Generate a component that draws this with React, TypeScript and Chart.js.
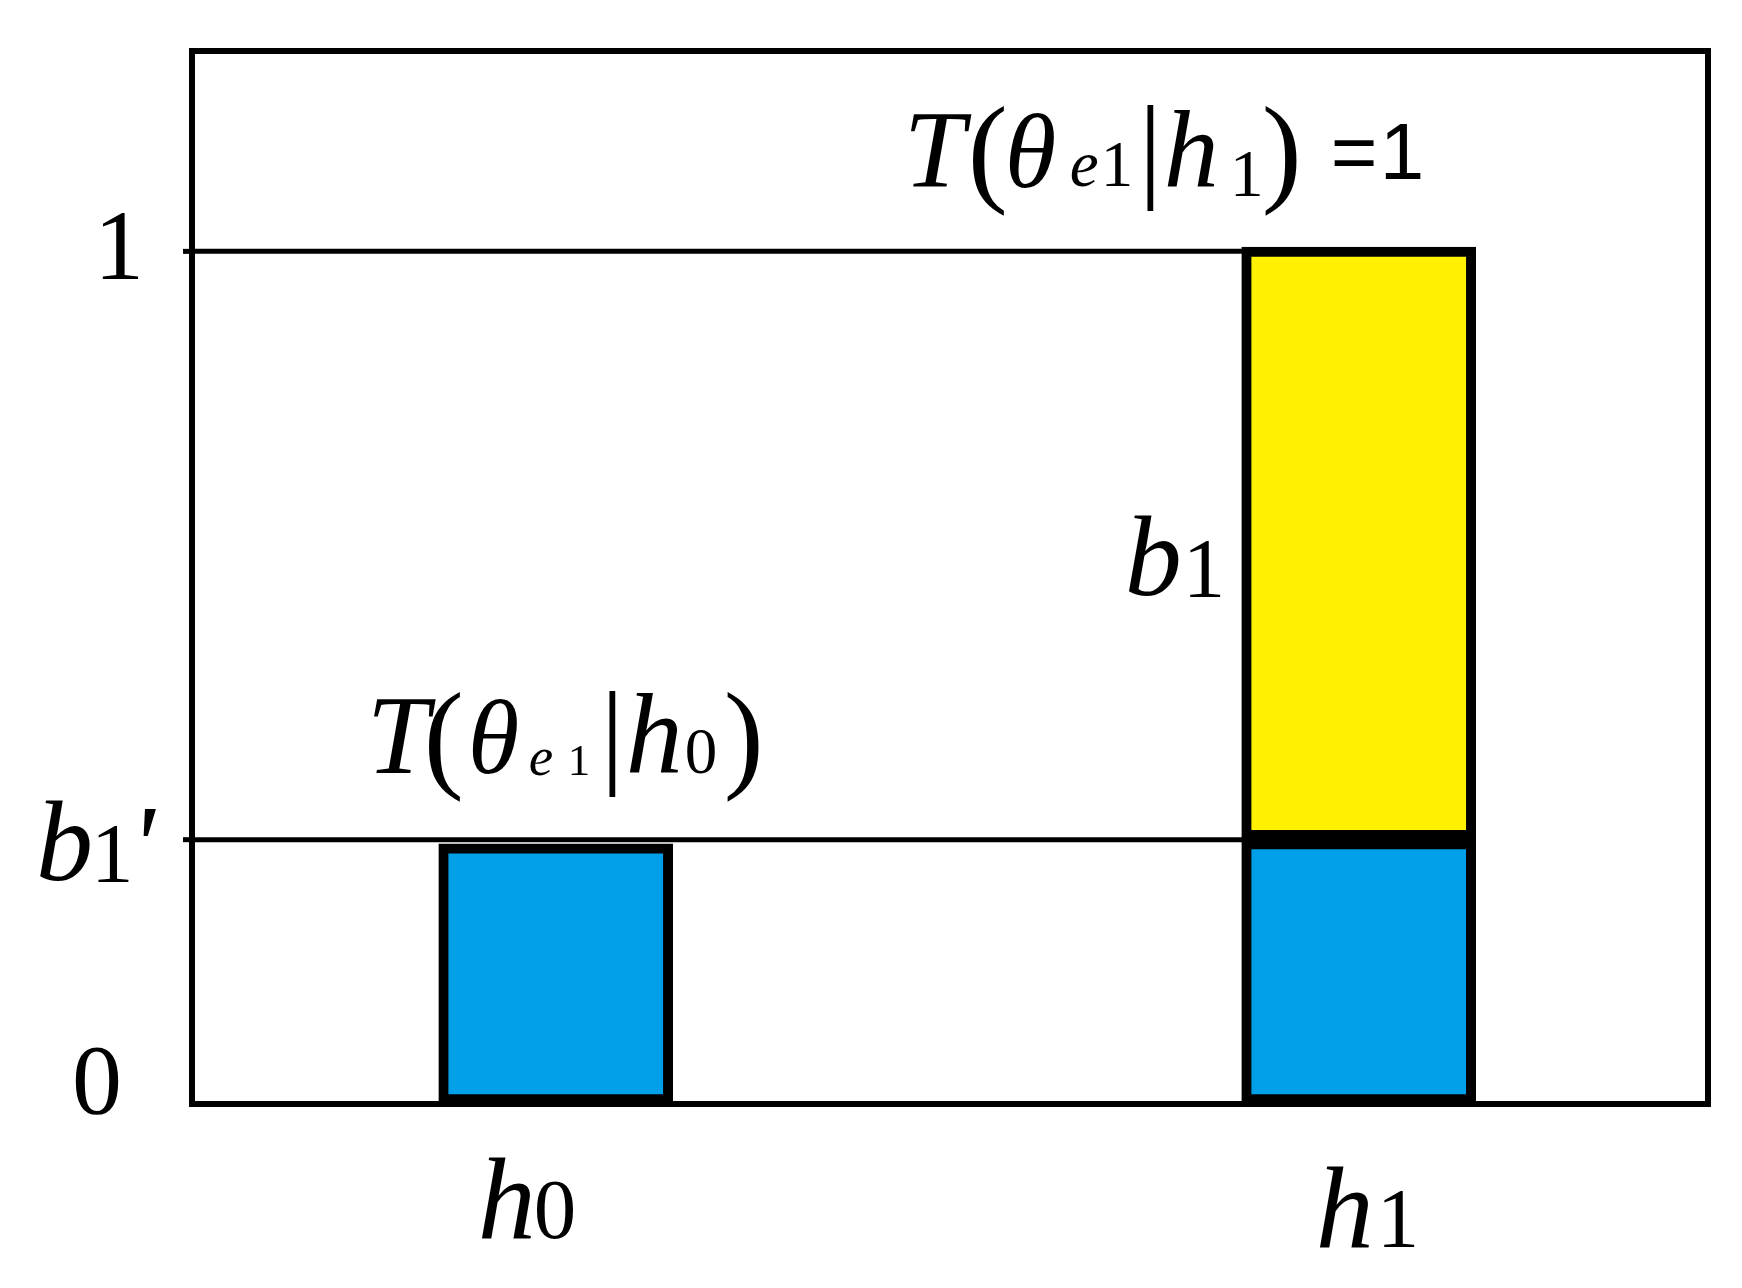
import { useEffect, useRef } from 'react';
import { Chart, registerables } from 'chart.js';
Chart.register(...registerables);

// ---- data ----
const categories = ['h0', 'h1'];
const blueValues = [0.305, 0.31];
const yellowValues: (number | null)[] = [null, 0.695];
const yTickValues = [0, 0.31, 1];
const yTickLabels = ['0', "b1'", '1'];
const annotationH1 = 'T(θe1|h1)=1';
const annotationH0 = 'T(θe1|h0)';
const yellowLabel = 'b1';

const Y_MAX = 1.235;
const X_MIN = -0.453;
const X_MAX = 1.435;

const SERIF = "'Liberation Serif', 'Times New Roman', serif";
const SANS = "'Liberation Sans', Arial, sans-serif";

type Lay = [number, number, number, 'i' | 'r' | 's']; // dx, dy, size, style

function drawText(ctx: CanvasRenderingContext2D, ox: number, oy: number, text: string, lay: Lay[]) {
  const chars = Array.from(text);
  ctx.save();
  ctx.fillStyle = '#000';
  ctx.textBaseline = 'alphabetic';
  ctx.textAlign = 'left';
  lay.forEach((l, k) => {
    const [dx, dy, size, st] = l;
    ctx.font = `${st === 'i' ? 'italic ' : ''}${size}px ${st === 's' ? SANS : SERIF}`;
    ctx.fillText(chars[k] ?? '', ox + dx, oy + dy);
  });
  ctx.restore();
}

const yLabelLayouts: Record<string, Lay[]> = {
  '0': [[-120, 9, 100, 'r']],
  "b1'": [[-156, 40, 114, 'i'], [-101, 42, 85, 'r'], [-62, 44, 114, 'i']],
  '1': [[-98, 28, 100, 'r']],
};
const xLabelLayouts: Record<string, Lay[]> = {
  h0: [[-78, 134, 116, 'i'], [-22, 134, 85, 'r']],
  h1: [[-43, 143, 116, 'i'], [18, 143, 85, 'r']],
};
const annH1Layout: Lay[] = [
  [-455, -64, 110, 'i'],
  [-391, -61, 120, 'r'],
  [-354, -64, 105, 'i'],
  [-289, -65, 65, 'i'],
  [-258, -65, 65, 'r'],
  [-220, -65, 116, 'r'],
  [-195, -64, 110, 'i'],
  [-129, -55, 68, 'r'],
  [-97, -61, 120, 'r'],
  [-28, -72, 80, 's'],
  [21, -72, 80, 's'],
];
const annH0Layout: Lay[] = [
  [-189, -71, 112, 'i'],
  [-132, -68, 120, 'r'],
  [-88, -71, 105, 'i'],
  [-27, -69, 55, 'i'],
  [12, -69, 45, 'r'],
  [45, -72, 116, 'r'],
  [70, -71, 114, 'i'],
  [129, -71, 65, 'r'],
  [168, -68, 120, 'r'],
];
const yellowLabelLayout: Lay[] = [[-234, 52, 114, 'i'], [-176, 54, 85, 'r']];

const decorPlugin = {
  id: 'decor',
  afterDatasetsDraw(chart: any) {
    const ctx: CanvasRenderingContext2D = chart.ctx;
    const { left, right, top, bottom } = chart.chartArea;
    const xs = chart.scales.x;
    const ys = chart.scales.y;
    ctx.save();
    ctx.strokeStyle = '#000';
    ctx.lineWidth = 6;
    ctx.strokeRect(left, top, right - left, bottom - top);
    // tick marks
    ctx.lineWidth = 5;
    yTickValues.forEach((v) => {
      if (v === 0) return;
      const y = ys.getPixelForValue(v);
      ctx.beginPath();
      ctx.moveTo(left - 9, y);
      ctx.lineTo(left, y);
      ctx.stroke();
    });
    ctx.restore();
    // y labels
    yTickValues.forEach((v, i) => {
      const lab = yTickLabels[i];
      drawText(ctx, left, ys.getPixelForValue(v), lab, yLabelLayouts[lab] || []);
    });
    // x labels
    categories.forEach((c, i) => {
      drawText(ctx, xs.getPixelForValue(i), bottom, c, xLabelLayouts[c] || []);
    });
    // annotations
    const h1Top = (blueValues[1] || 0) + (yellowValues[1] || 0);
    drawText(ctx, xs.getPixelForValue(1), ys.getPixelForValue(1), annotationH1, annH1Layout);
    drawText(ctx, xs.getPixelForValue(0), ys.getPixelForValue(blueValues[0]), annotationH0, annH0Layout);
    const mid = (ys.getPixelForValue(blueValues[1]) + ys.getPixelForValue(h1Top)) / 2;
    drawText(ctx, xs.getPixelForValue(1), mid, yellowLabel, yellowLabelLayout);
  },
};

export default function App() {
  const ref = useRef<HTMLCanvasElement | null>(null);
  useEffect(() => {
    document.body.style.margin = '0';
    document.body.style.overflow = 'hidden';
    const canvas = ref.current;
    if (!canvas) return;
    const refLines = [yTickValues[2], yTickValues[1]];
    const chart = new Chart(canvas, {
      type: 'bar',
      data: {
        datasets: [
          {
            type: 'bar',
            label: 'blue',
            data: categories.map((_, i) => ({ x: i, y: blueValues[i] })),
            backgroundColor: '#00A0E9',
            borderColor: '#000',
            borderWidth: 10,
            borderSkipped: false,
            barThickness: 234,
            stack: 'bars',
            order: 1,
          },
          {
            type: 'bar',
            label: 'yellow',
            data: categories.map((_, i) => ({ x: i, y: yellowValues[i] })),
            backgroundColor: '#FFF100',
            borderColor: '#000',
            borderWidth: 10,
            borderSkipped: false,
            barThickness: 234,
            stack: 'bars',
            order: 1,
          },
          ...refLines.map((v, k) => ({
            type: 'line' as const,
            label: 'ref' + k,
            data: [
              { x: X_MIN, y: v },
              { x: 1, y: v },
            ],
            borderColor: '#000',
            borderWidth: 5,
            pointRadius: 0,
            stack: 'line' + k,
            order: 2,
          })),
        ] as any,
      },
      options: {
        responsive: false,
        animation: false,
        layout: { padding: { left: 192, right: 34, top: 51, bottom: 184 } },
        plugins: { legend: { display: false }, tooltip: { enabled: false } },
        scales: {
          x: { type: 'linear', min: X_MIN, max: X_MAX, display: false, stacked: true, offset: false, grid: { offset: false } },
          y: { type: 'linear', min: 0, max: Y_MAX, display: false, stacked: true },
        },
      } as any,
      plugins: [decorPlugin],
    });
    return () => chart.destroy();
  }, []);
  return <canvas ref={ref} width={1742} height={1288} style={{ display: 'block' }} />;
}
